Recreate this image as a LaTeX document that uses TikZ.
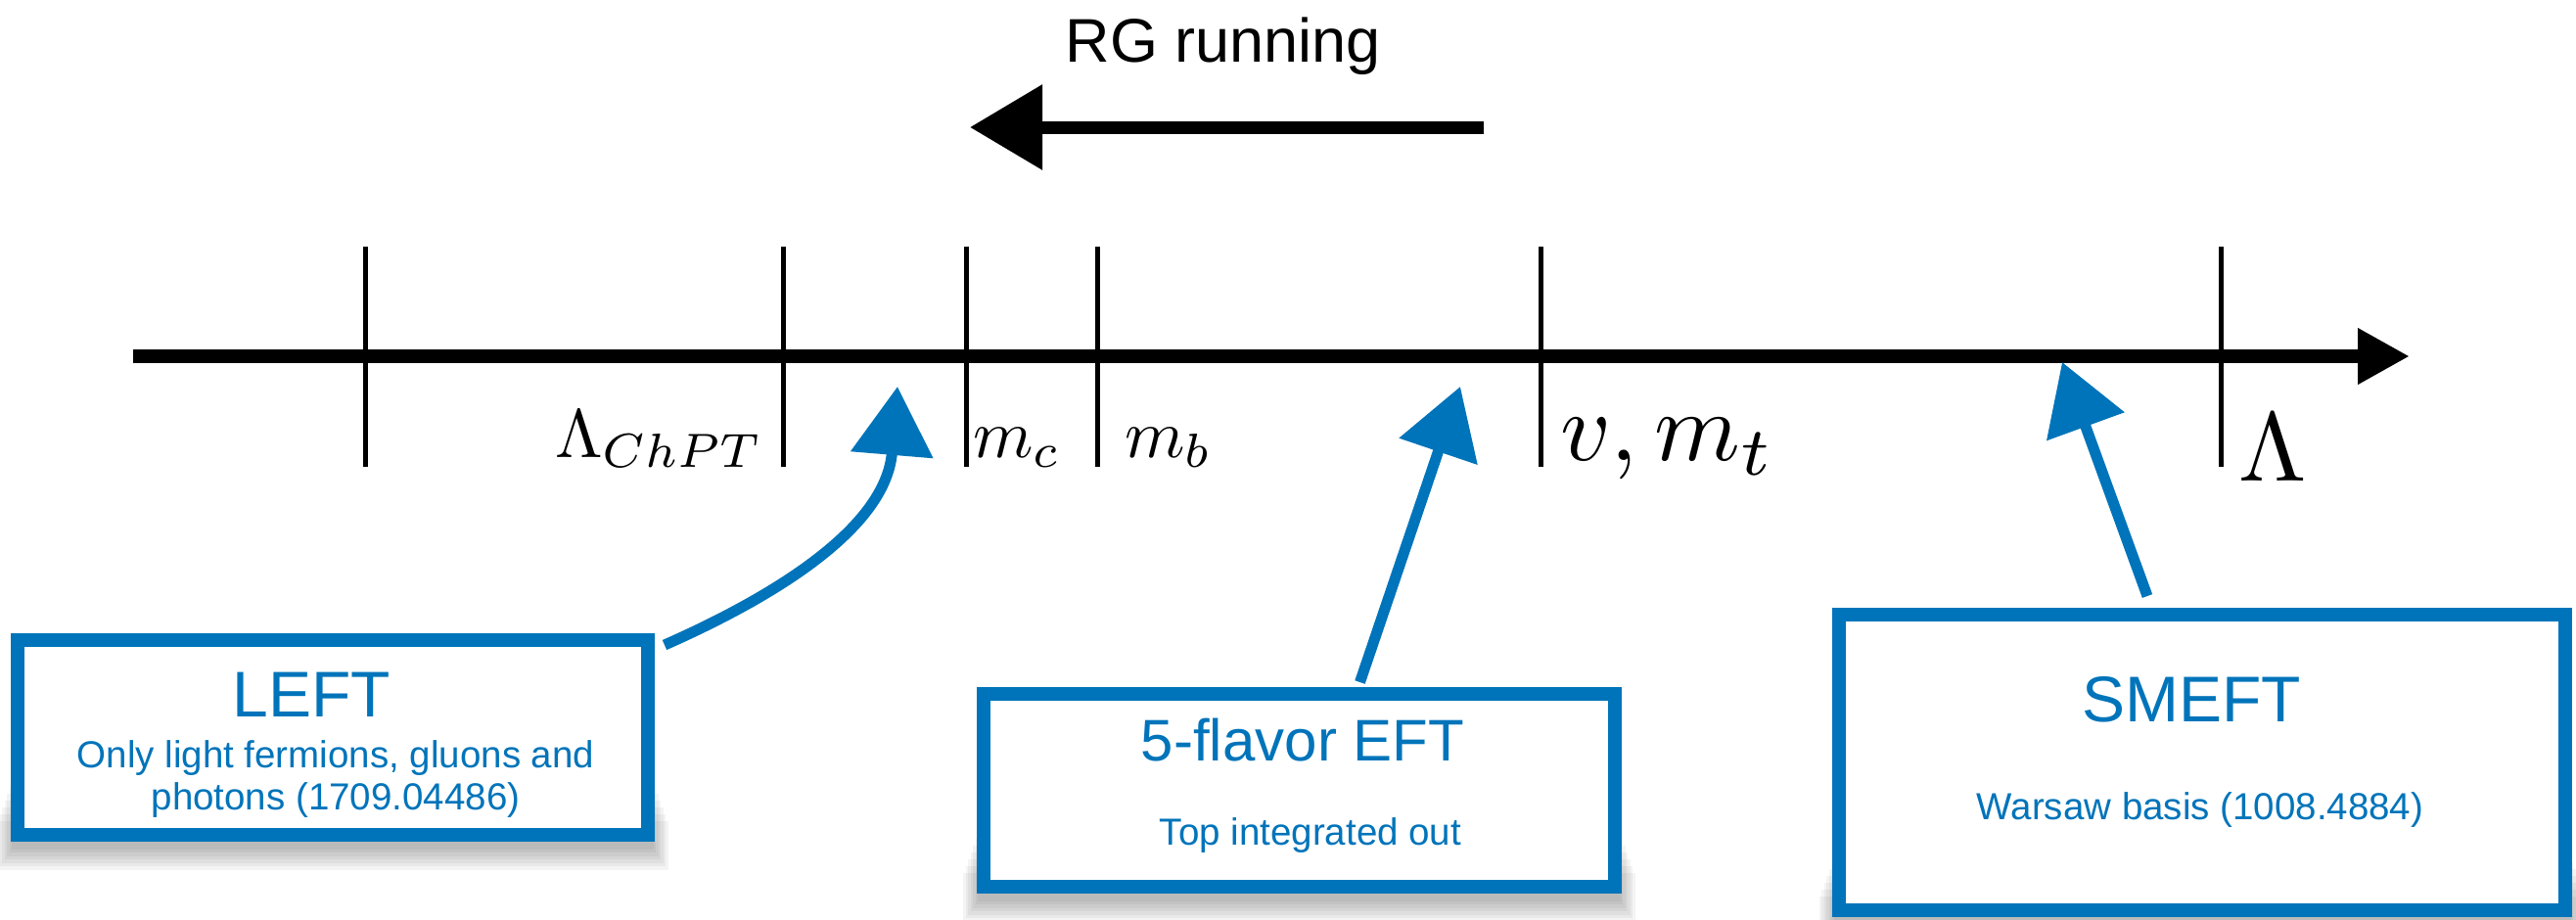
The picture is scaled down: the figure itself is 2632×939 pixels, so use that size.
\documentclass[tikz,border=0pt]{standalone}
\usepackage{fontspec}
\newfontfamily\hv{Liberation Sans}
\usetikzlibrary{arrows.meta,calc}
\definecolor{kblue}{RGB}{0,116,186}
\pgfdeclarelayer{bg}
\pgfsetlayers{bg,main}
\begin{document}
\begin{tikzpicture}[x=0.2pt,y=-0.2pt,
  tickline/.style={line width=1pt},
  axisline/.style={line width=2.8pt,-{Triangle[length=10.6pt,width=10.8pt]}},
  rgarrow/.style={line width=2.6pt,-{Triangle[length=14.8pt,width=16.8pt]}},
  barrow/.style={draw=kblue,line width=2.2pt,-{Triangle[length=14pt,width=16.4pt]}},
  scalelbl/.style={inner sep=0pt,scale=1.4},
  biglbl/.style={inner sep=0pt,scale=2},
  ebox/.style={draw=kblue,line width=2.8pt,fill=white,inner sep=0pt,rectangle},
  title/.style={inner sep=0pt,anchor=base,text=kblue,font=\hv\fontsize{13.2}{15}\selectfont},
  sub/.style={inner sep=0pt,anchor=base,text=kblue,font=\hv\fontsize{7.7}{9}\selectfont}
]
\useasboundingbox (0,0) rectangle (2632,939);

% RG running
\node[inner sep=0pt,anchor=base,font=\hv\fontsize{12.6}{14}\selectfont] (rg) at (1250,63) {RG running};
\coordinate (rgS) at (1516,130);
\coordinate (rgE) at (991,130);
\draw[rgarrow] (rgS) -- (rgE);

% axis
\coordinate (axS) at (136,364);
\coordinate (axE) at (2462,364);
\draw[axisline] (axS) -- (axE);
\foreach \x in {373,800,987,1121,1574,2269}
  \draw[tickline] (\x,252) -- (\x,477);

% scale labels
\node[scalelbl,anchor=base east] (lchpt) at (781,467) {$\Lambda_{ChPT}$};
\node[scalelbl,anchor=base west] (mc) at (993,467) {$m_c$};
\node[scalelbl,anchor=base west] (mb) at (1148,467) {$m_b$};
\node[biglbl,anchor=base west] (vmt) at (1592,470) {$v, m_t$};
\node[biglbl,anchor=base west] (lam) at (2285,491) {$\Lambda$};

% boxes
\node[ebox,minimum width=128.8pt,minimum height=39.8pt] (leftbox) at (340,753.5) {};
\node[ebox,minimum width=129pt,minimum height=39.4pt] (fivebox) at (1327.5,807.5) {};
\node[ebox,minimum width=148.4pt,minimum height=60.4pt] (smeftbox) at (2250,779) {};

\begin{pgfonlayer}{bg}
\foreach \b in {leftbox,fivebox,smeftbox}{
  \foreach \k in {1,...,7}{
    \fill[black,opacity=0.045] ($(\b.south west)+(4-\k*2.5,4+\k*3.5)$) rectangle ($(\b.south east)+(-4+\k*2.5,-70+\k*7)$);
  }
}
\end{pgfonlayer}

% box texts
\node[title] (lefttitle) at (318,732) {LEFT};
\node[sub] (leftsubA) at (343,784) {Only light fermions, gluons and};
\node[sub] (leftsubB) at (343,827) {photons (1709.04486)};
\node[title,font=\hv\fontsize{12}{14}\selectfont] (fivetitle) at (1331,777) {5-flavor EFT};
\node[sub] (fivesub) at (1339,863) {Top integrated out};
\node[title] (smefttitle) at (2239,737) {SMEFT};
\node[sub] (smeftsub) at (2248,837) {Warsaw basis (1008.4884)};

% blue arrows
\coordinate (tipL) at (917,395);
\coordinate (tip5) at (1492,395);
\coordinate (tipS) at (2107,370);
\draw[barrow] ($(leftbox.north east)+(10,12)$) .. controls (790,610) and (905,540) .. (tipL);
\draw[barrow] ($(fivebox.north)+(62,-5)$) -- (tip5);
\draw[barrow] ($(smeftbox.north)+(-56,-12)$) -- (tipS);
\end{tikzpicture}
\end{document}
